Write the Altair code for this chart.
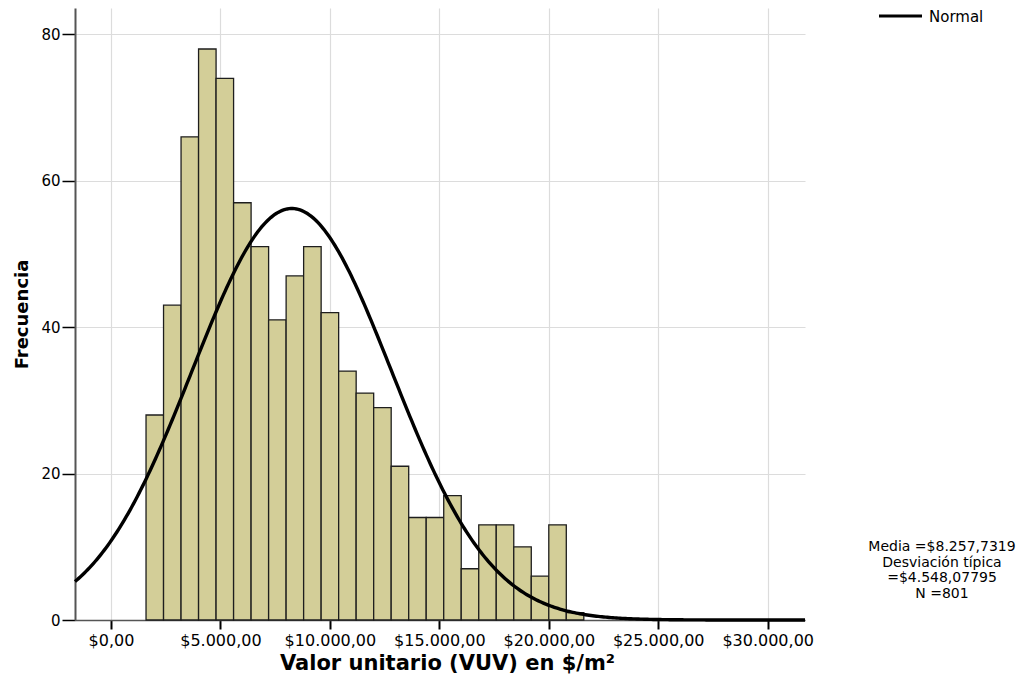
import altair as alt
import numpy as np
import pandas as pd

# ---- data ----
counts = [28, 43, 66, 78, 74, 57, 51, 41, 47, 51, 42, 34, 31, 29, 21,
          14, 14, 17, 7, 13, 13, 10, 6, 13, 1]
bin_start = 1600.0
bin_width = 800.0

mean_value = 8257.7319
sd_value = 4548.07795
n_value = 801

x_tick_values = [0, 5000, 10000, 15000, 20000, 25000, 30000]
x_tick_labels = ["$0,00", "$5.000,00", "$10.000,00", "$15.000,00",
                 "$20.000,00", "$25.000,00", "$30.000,00"]
y_tick_values = [0, 20, 40, 60, 80]

x_domain = [-1645, 31705]
y_domain = [0, 83.6]

stats_lines = ["Media =$8.257,7319", "Desviación típica", "=$4.548,07795", "N =801"]
legend_label = "Normal"
x_title = "Valor unitario (VUV) en $/m²"
y_title = "Frecuencia"

FONT = "DejaVu Sans"

# ---- tables ----
edges = bin_start + bin_width * np.arange(len(counts) + 1)
bars_df = pd.DataFrame({"start": edges[:-1], "end": edges[1:], "count": counts})

xs = np.linspace(x_domain[0], x_domain[1], 400)
ys = n_value * bin_width / (sd_value * np.sqrt(2 * np.pi)) * np.exp(-0.5 * ((xs - mean_value) / sd_value) ** 2)
curve_df = pd.DataFrame({"start": xs, "count": ys})

label_expr = " : ".join(f"datum.value == {v} ? '{l}'" for v, l in zip(x_tick_values, x_tick_labels)) + " : ''"

x_scale = alt.Scale(domain=x_domain, nice=False, zero=False)
y_scale = alt.Scale(domain=y_domain, nice=False, zero=True)

x_axis = alt.Axis(
    values=x_tick_values, labelExpr=label_expr, title=x_title,
    grid=True, gridColor="#dcdcdc", gridWidth=1.2,
    domain=True, domainColor="#555555", domainWidth=1.5,
    tickColor="#000000", tickWidth=2, tickSize=9,
    labelFont=FONT, labelFontSize=16, labelColor="#000000", labelPadding=3,
    labelBaseline="top", labelFlush=False, labelOverlap=False,
    titleFont=FONT, titleFontSize=21, titleFontWeight="bold", titleColor="#000000",
    titleX=372, titleY=49, titleBaseline="alphabetic", titleAlign="center",
)
y_axis = alt.Axis(
    values=y_tick_values, title=y_title,
    grid=True, gridColor="#dcdcdc", gridWidth=1.2,
    domain=True, domainColor="#555555", domainWidth=2,
    tickColor="#000000", tickWidth=1.5, tickSize=13,
    labelFont=FONT, labelFontSize=15, labelColor="#000000", labelPadding=2,
    titleFont=FONT, titleFontSize=18, titleFontWeight="bold", titleColor="#000000",
    titleX=-48, titleY=306, titleAngle=270, titleBaseline="alphabetic", titleAlign="center",
)

bars = alt.Chart(bars_df).mark_rect(
    fill="#d3ce98", stroke="#1e1e1e", strokeWidth=1.3, opacity=1
).encode(
    x=alt.X("start:Q", scale=x_scale, axis=x_axis),
    x2="end:Q",
    y=alt.Y("count:Q", scale=y_scale, axis=y_axis),
    y2=alt.datum(0),
)

curve = alt.Chart(curve_df).mark_line(color="#000000", strokeWidth=3.4).encode(
    x=alt.X("start:Q", scale=x_scale, axis=x_axis),
    y=alt.Y("count:Q", scale=y_scale, axis=y_axis),
)

one = pd.DataFrame({"k": [0]})
legend_line = alt.Chart(one).mark_rule(color="#000000", strokeWidth=3.2).encode(
    x=alt.value(804), x2=alt.value(847), y=alt.value(8)
)
legend_text = alt.Chart(one).mark_text(
    align="left", baseline="middle", font=FONT, fontSize=15, color="#000000"
).encode(x=alt.value(854), y=alt.value(9), text=alt.value(legend_label))

stats_text = alt.Chart(one).mark_text(
    align="center", baseline="alphabetic", font=FONT, fontSize=14, color="#000000",
    lineBreak="\n", lineHeight=15.5
).encode(x=alt.value(867), y=alt.value(543), text=alt.value("\n".join(stats_lines)))

chart = alt.layer(bars, curve, legend_line, legend_text, stats_text).properties(
    width=730, height=612,
    autosize=alt.AutoSizeParams(type="none"),
    padding={"left": 67, "top": 0, "right": 222, "bottom": 54},
    background="white",
).configure_view(stroke=None)

chart.save("out.html", embed_options={"renderer": "svg", "actions": False})
